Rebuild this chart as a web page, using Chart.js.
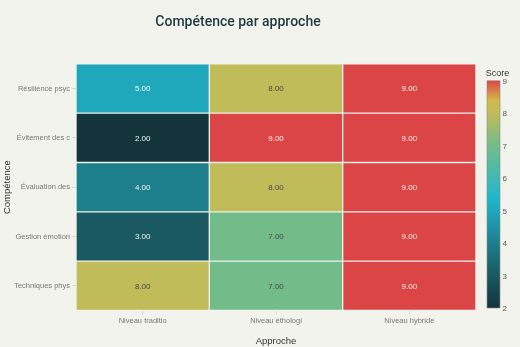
<!DOCTYPE html>
<html>
<head>
<meta charset="utf-8">
<script src="https://cdn.jsdelivr.net/npm/chart.js@4/dist/chart.umd.min.js"></script>
<style>
html,body{margin:0;padding:0;background:#F3F3EE;}
#wrap{width:520px;height:347px;}
</style>
</head>
<body>
<div id="wrap"><canvas id="c" width="520" height="347"></canvas></div>
<script>
const competences = ["Résilience psyc", "Évitement des c", "Évaluation des", "Gestion émotion", "Techniques phys"];
const approaches = ["Niveau traditio", "Niveau éthologi", "Niveau hybride"];
const scoreTraditio = [5, 2, 4, 3, 8];
const scoreEthologi = [8, 9, 8, 7, 7];
const scoreHybride = [9, 9, 9, 9, 9];
const colorbarTicks = [2, 3, 4, 5, 6, 7, 8, 9];
const scoreMin = 2, scoreMax = 9;

const seriesValues = [scoreTraditio, scoreEthologi, scoreHybride];

const colorStops = [
  [0.000, [19, 52, 59]],
  [0.143, [26, 88, 98]],
  [0.286, [29, 127, 140]],
  [0.429, [31, 168, 188]],
  [0.486, [31, 184, 205]],
  [0.714, [114, 188, 138]],
  [0.857, [192, 188, 90]],
  [0.914, [212, 184, 74]],
  [1.000, [219, 69, 69]]
];
function colorAt(t) {
  t = Math.max(0, Math.min(1, t));
  for (let i = 1; i < colorStops.length; i++) {
    if (t <= colorStops[i][0]) {
      const a = colorStops[i-1], b = colorStops[i];
      const f = (t - a[0]) / (b[0] - a[0]);
      return a[1].map((v, k) => Math.round(v + (b[1][k] - v) * f));
    }
  }
  return colorStops[colorStops.length-1][1];
}
function colorFor(v) {
  const c = colorAt((v - scoreMin) / (scoreMax - scoreMin));
  return `rgb(${c[0]},${c[1]},${c[2]})`;
}
function textColorFor(v) {
  const c = colorAt((v - scoreMin) / (scoreMax - scoreMin));
  const lum = 0.299*c[0] + 0.587*c[1] + 0.114*c[2];
  if (v >= 8.9) return '#F5F5F0';
  return lum > 140 ? '#4a4a4a' : '#F5F5F0';
}

const datasets = approaches.map((a, j) => ({
  label: a,
  data: seriesValues[j].map(() => [j, j + 1]),
  scores: seriesValues[j],
  backgroundColor: seriesValues[j].map(colorFor),
  borderColor: 'rgba(243,243,238,0.22)',
  borderWidth: 1,
  borderSkipped: false,
  grouped: false,
  barPercentage: 1,
  categoryPercentage: 1
}));

const cellLabels = {
  id: 'cellLabels',
  afterDatasetsDraw(chart) {
    const ctx = chart.ctx;
    ctx.save();
    ctx.font = '8px "Liberation Sans", Arial, sans-serif';
    ctx.textAlign = 'center';
    ctx.textBaseline = 'middle';
    chart.data.datasets.forEach((ds, j) => {
      const meta = chart.getDatasetMeta(j);
      meta.data.forEach((el, i) => {
        const p = el.getProps(['x', 'y', 'base'], true);
        const v = ds.scores[i];
        ctx.fillStyle = textColorFor(v);
        ctx.fillText(v.toFixed(2), (p.x + p.base) / 2, p.y + 0.5);
      });
    });
    ctx.restore();
  }
};

const colorbar = {
  id: 'colorbar',
  afterDraw(chart) {
    const ctx = chart.ctx;
    const ca = chart.chartArea;
    const x0 = ca.right + 11, w = 13;
    const top = ca.top + 17, bottom = ca.bottom - 2.5;
    ctx.save();
    const g = ctx.createLinearGradient(0, bottom, 0, top);
    colorStops.forEach(s => g.addColorStop(s[0], `rgb(${s[1][0]},${s[1][1]},${s[1][2]})`));
    ctx.fillStyle = g;
    ctx.fillRect(x0, top, w, bottom - top);
    ctx.strokeStyle = '#8a8a8a';
    ctx.lineWidth = 0.6;
    ctx.strokeRect(x0, top, w, bottom - top);
    ctx.fillStyle = '#555';
    ctx.font = '8px "Liberation Sans", Arial, sans-serif';
    ctx.textAlign = 'left';
    ctx.textBaseline = 'middle';
    colorbarTicks.forEach(t => {
      const y = bottom - (t - scoreMin) / (scoreMax - scoreMin) * (bottom - top);
      ctx.fillText(String(t), x0 + w + 2.5, y + 1);
    });
    ctx.fillStyle = '#333';
    ctx.font = '9px "Liberation Sans", Arial, sans-serif';
    ctx.textAlign = 'center';
    ctx.textBaseline = 'alphabetic';
    ctx.fillText('Score', x0 + w / 2 + 4, top - 5);
    ctx.restore();
  }
};

new Chart(document.getElementById('c'), {
  type: 'bar',
  data: { labels: competences, datasets },
  options: {
    indexAxis: 'y',
    responsive: false,
    animation: false,
    events: [],
    layout: { padding: { left: 0, right: 44, top: 0, bottom: 0 } },
    plugins: {
      legend: { display: false },
      tooltip: { enabled: false },
      title: {
        display: true,
        text: 'Compétence par approche',
        color: '#1F3A40',
        font: { family: 'Roboto, "Liberation Sans", Arial, sans-serif', size: 14, weight: '500' },
        padding: { top: 14, bottom: 33 }
      }
    },
    scales: {
      x: {
        type: 'linear',
        min: 0,
        max: 3,
        afterBuildTicks(scale) {
          scale.ticks = approaches.map((a, j) => ({ value: j + 0.5 }));
        },
        afterFit(scale) { scale.height = 36.5; },
        ticks: {
          callback: (v) => approaches[Math.floor(v)],
          color: '#777',
          font: { family: '"Liberation Sans", Arial, sans-serif', size: 7.5 },
          padding: 2,
          maxRotation: 0
        },
        grid: { drawOnChartArea: false, tickLength: 4, color: '#d8d8d2' },
        border: { display: false },
        title: {
          display: true,
          text: 'Approche',
          color: '#333',
          font: { family: '"Liberation Sans", Arial, sans-serif', size: 9.5 },
          padding: { top: 6, bottom: 0 }
        }
      },
      y: {
        type: 'category',
        offset: true,
        afterFit(scale) { scale.width = 76; },
        ticks: {
          color: '#777',
          font: { family: '"Liberation Sans", Arial, sans-serif', size: 7.5 },
          padding: 2
        },
        grid: { offset: false, drawOnChartArea: false, tickLength: 4, color: '#d8d8d2' },
        border: { display: false },
        title: {
          display: true,
          text: 'Compétence',
          color: '#333',
          font: { family: '"Liberation Sans", Arial, sans-serif', size: 9.5 },
          padding: { top: 2, bottom: 0 }
        }
      }
    }
  },
  plugins: [cellLabels, colorbar]
});
</script>
</body>
</html>
